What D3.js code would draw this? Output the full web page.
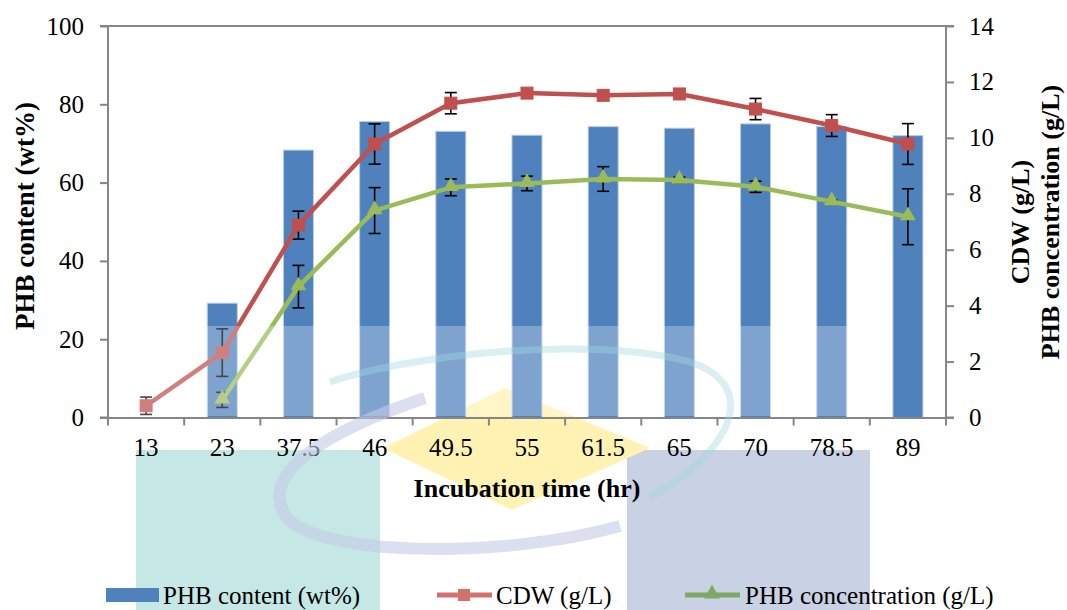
<!DOCTYPE html>
<html>
<head>
<meta charset="utf-8">
<script src="https://cdn.jsdelivr.net/npm/d3@7"></script>
<style>
  body { margin: 0; background: #fff; }
  text { font-family: "Liberation Serif", "Times New Roman", serif; }
</style>
</head>
<body>
<div id="chart"></div>
<script>
// incubation times (hr)
const times = ['13', '23', '37.5', '46', '49.5', '55', '61.5', '65', '70', '78.5', '89']
// PHB content (wt%), bars, left axis
const phbContent = [0, 29.2, 68.3, 75.6, 73.1, 72.1, 74.3, 73.9, 75.0, 74.3, 72.0]
// CDW (g/L), right axis
const cdw = [0.42, 2.32, 6.88, 9.78, 11.24, 11.6, 11.52, 11.57, 11.03, 10.44, 9.78]
const cdwErr = [0.31, 0.85, 0.5, 0.72, 0.38, 0.05, 0.05, 0.05, 0.38, 0.39, 0.73]
// PHB concentration (g/L), right axis
const phbConc = [null, 0.63, 4.68, 7.4, 8.23, 8.37, 8.53, 8.49, 8.25, 7.72, 7.18]
const phbErr = [null, 0.27, 0.76, 0.82, 0.3, 0.26, 0.44, 0.1, 0.2, 0.05, 1.0]

const leftTicks = [0, 20, 40, 60, 80, 100]
const rightTicks = [0, 2, 4, 6, 8, 10, 12, 14]

async function draw(el) {
    let dimensions = {
        width: 1067,
        height: 610,
        left: 108,
        right: 946,
        top: 26,
        bottom: 417.5,
    }

    const svg = d3.select(el)
        .append('svg')
        .attr('width', dimensions.width)
        .attr('height', dimensions.height)

    // watermark, back layer
    const wm = svg.append('g')
    wm.append('rect').attr('x', 136).attr('y', 450).attr('width', 244).attr('height', 160).attr('fill', '#c5e8e6')
    wm.append('rect').attr('x', 627).attr('y', 450).attr('width', 243).attr('height', 160).attr('fill', '#c9d1e4')
    wm.append('path')
        .attr('d', 'M505,388 L650,448 L512,510 L383,448 Z')
        .attr('fill', '#fff2b3')

    const xScale = d3.scaleBand()
        .domain(times)
        .range([dimensions.left, dimensions.right])
        .padding(0)

    const yLeft = d3.scaleLinear()
        .domain([0, 100])
        .range([dimensions.bottom, dimensions.top])

    const yRight = d3.scaleLinear()
        .domain([0, 14])
        .range([dimensions.bottom, dimensions.top])

    const cx = t => xScale(t) + xScale.bandwidth() / 2
    const barW = 30

    // bars
    svg.append('g')
        .selectAll('rect')
        .data(phbContent)
        .join('rect')
        .attr('x', (d, i) => cx(times[i]) - barW / 2)
        .attr('y', d => yLeft(d))
        .attr('width', barW)
        .attr('height', d => yLeft(0) - yLeft(d))
        .attr('fill', '#4f81bd')
        .attr('stroke', d => d > 0 ? '#b9cde5' : 'none')
        .attr('stroke-width', 1)

    // axes
    const axisColor = '#868686'
    const gl = svg.append('g')
        .attr('transform', `translate(${dimensions.left},0)`)
        .call(d3.axisLeft(yLeft).tickValues(leftTicks).tickSize(8).tickPadding(16))
    const gr = svg.append('g')
        .attr('transform', `translate(${dimensions.right},0)`)
        .call(d3.axisRight(yRight).tickValues(rightTicks).tickSize(8).tickPadding(15))
    const gx = svg.append('g')
        .attr('transform', `translate(0,${dimensions.bottom})`)
        .call(d3.axisBottom(xScale).tickSize(0).tickPadding(21))

    ;[gl, gr, gx].forEach(g => {
        g.select('.domain').attr('stroke', axisColor).attr('stroke-width', 2)
        g.selectAll('.tick line').attr('stroke', axisColor).attr('stroke-width', 2)
        g.selectAll('.tick text')
            .attr('fill', '#000')
            .style('font-size', '25px')
            .style('font-family', '"Liberation Serif", serif')
    })
    gl.select('.domain').attr('d', `M-8,${dimensions.top}H0V${dimensions.bottom}H-8`)
    gr.select('.domain').attr('d', `M8,${dimensions.top}H0V${dimensions.bottom}H8`)

    // x category boundary ticks
    svg.append('g')
        .selectAll('line')
        .data(times.concat(['end']))
        .join('line')
        .attr('x1', (d, i) => i < times.length ? xScale(d) : dimensions.right)
        .attr('x2', (d, i) => i < times.length ? xScale(d) : dimensions.right)
        .attr('y1', dimensions.bottom)
        .attr('y2', dimensions.bottom + 8)
        .attr('stroke', axisColor)
        .attr('stroke-width', 2)

    // top border
    svg.append('line')
        .attr('x1', dimensions.left).attr('x2', dimensions.right)
        .attr('y1', dimensions.top).attr('y2', dimensions.top)
        .attr('stroke', axisColor).attr('stroke-width', 2)

    // error bars
    function errorBars(values, errs) {
        const g = svg.append('g').attr('stroke', '#000').attr('stroke-width', 1.6)
        values.forEach((v, i) => {
            if (v == null || errs[i] == null) return
            const x = cx(times[i])
            const y1 = yRight(v + errs[i])
            const y2 = yRight(v - errs[i])
            g.append('line').attr('x1', x).attr('x2', x).attr('y1', y1).attr('y2', y2)
            g.append('line').attr('x1', x - 6).attr('x2', x + 6).attr('y1', y1).attr('y2', y1)
            g.append('line').attr('x1', x - 6).attr('x2', x + 6).attr('y1', y2).attr('y2', y2)
        })
    }
    errorBars(cdw, cdwErr)
    errorBars(phbConc, phbErr)

    const line = d3.line()
        .defined(d => d != null)
        .x((d, i) => cx(times[i]))
        .y(d => yRight(d))

    // CDW line
    svg.append('path')
        .datum(cdw)
        .attr('fill', 'none')
        .attr('stroke', '#c0504d')
        .attr('stroke-width', 4.5)
        .attr('stroke-linejoin', 'round')
        .attr('d', line)
    svg.append('g')
        .selectAll('rect')
        .data(cdw)
        .join('rect')
        .attr('x', (d, i) => cx(times[i]) - 6)
        .attr('y', d => yRight(d) - 6)
        .attr('width', 12)
        .attr('height', 12)
        .attr('fill', '#c0504d')
        .attr('stroke', '#c0504d')

    // PHB concentration line
    svg.append('path')
        .datum(phbConc)
        .attr('fill', 'none')
        .attr('stroke', '#9bbb59')
        .attr('stroke-width', 4.5)
        .attr('stroke-linejoin', 'round')
        .attr('d', line)
    const tri = d3.symbol().type(d3.symbolTriangle).size(110)
    svg.append('g')
        .selectAll('path')
        .data(phbConc.map((v, i) => ({ v, t: times[i] })).filter(d => d.v != null))
        .join('path')
        .attr('d', tri)
        .attr('transform', d => `translate(${cx(d.t)},${yRight(d.v) - 1})`)
        .attr('fill', '#9bbb59')

    // watermark, front layer
    const wf = svg.append('g')
    wf.append('rect')
        .attr('x', 135).attr('y', 326)
        .attr('width', 741).attr('height', 90)
        .attr('fill', '#fff').attr('opacity', 0.27)
    wf.append('path')
        .attr('d', 'M330,382 C420,352 600,336 690,362 C760,385 735,450 650,497')
        .attr('fill', 'none').attr('stroke', '#9fd8dc').attr('stroke-width', 7).attr('opacity', 0.4)
    wf.append('path')
        .attr('d', 'M425,398 C330,430 258,472 285,515 C312,556 500,560 620,526')
        .attr('fill', 'none').attr('stroke', '#c5c9e6').attr('stroke-width', 12).attr('opacity', 0.6)

    // axis titles
    svg.append('text')
        .attr('x', 527).attr('y', 497)
        .attr('text-anchor', 'middle')
        .style('font-size', '26px').style('font-weight', 'bold')
        .text('Incubation time (hr)')
    svg.append('text')
        .attr('transform', 'translate(34,216) rotate(-90)')
        .attr('text-anchor', 'middle')
        .style('font-size', '27px').style('font-weight', 'bold')
        .text('PHB content (wt%)')
    svg.append('text')
        .attr('transform', 'translate(1029,222) rotate(-90)')
        .attr('text-anchor', 'middle')
        .style('font-size', '26px').style('font-weight', 'bold')
        .text('CDW (g/L)')
    svg.append('text')
        .attr('transform', 'translate(1059,222) rotate(-90)')
        .attr('text-anchor', 'middle')
        .style('font-size', '26px').style('font-weight', 'bold')
        .text('PHB concentration (g/L)')

    // legend
    const lg = svg.append('g').attr('transform', 'translate(0,595)')
    lg.append('rect').attr('x', 106).attr('y', -7).attr('width', 53).attr('height', 14).attr('fill', '#4f81bd')
    lg.append('text').attr('x', 163).attr('y', 9).style('font-size', '25px').text('PHB content (wt%)')
    lg.append('line').attr('x1', 437).attr('x2', 492).attr('y1', 0).attr('y2', 0)
        .attr('stroke', '#d4706c').attr('stroke-width', 5)
    lg.append('rect').attr('x', 458).attr('y', -6).attr('width', 12).attr('height', 12).attr('fill', '#d4706c')
    lg.append('text').attr('x', 496).attr('y', 9).style('font-size', '25px').text('CDW (g/L)')
    lg.append('line').attr('x1', 685).attr('x2', 740).attr('y1', 0).attr('y2', 0)
        .attr('stroke', '#7ea864').attr('stroke-width', 5)
    lg.append('path').attr('d', tri).attr('transform', 'translate(712,-1)').attr('fill', '#7ea864')
    lg.append('text').attr('x', 745).attr('y', 9).style('font-size', '25px').text('PHB concentration (g/L)')
}

draw('#chart')
</script>
</body>
</html>
